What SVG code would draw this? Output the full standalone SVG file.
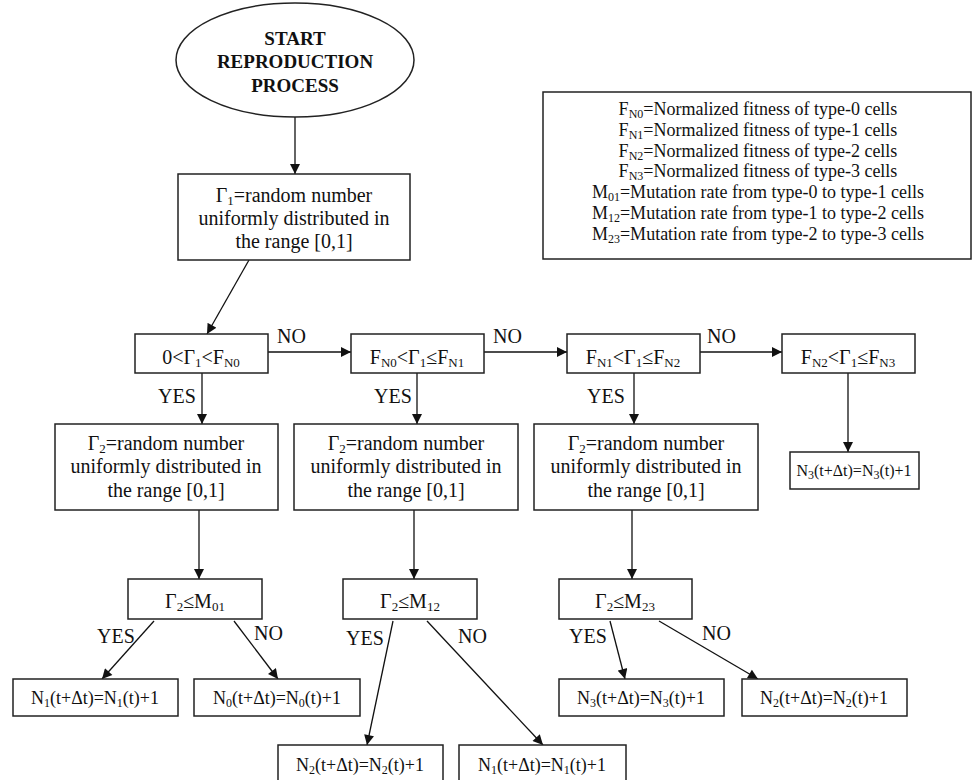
<svg xmlns="http://www.w3.org/2000/svg" width="973" height="780" viewBox="0 0 973 780">
<defs>
<marker id="ah" viewBox="0 0 10 10" refX="10" refY="5" markerWidth="11" markerHeight="10" markerUnits="userSpaceOnUse" orient="auto">
<path d="M0,0 L10,5 L0,10 z" fill="#111"/>
</marker>
<style>
.box{fill:#fff;stroke:#222;stroke-width:1.5}
.t{font-family:"Liberation Serif","Times New Roman",serif;font-size:20px;fill:#111;text-anchor:middle}
.t18{font-size:18px}
.t16{font-size:16px}
.b{font-weight:bold;font-size:19px}
.lbl{font-family:"Liberation Serif","Times New Roman",serif;font-size:20px;fill:#111}
.s{font-size:13px}
.s12{font-size:12px}
.c{fill:none;stroke:#111;stroke-width:1.3;marker-end:url(#ah)}
.c0{fill:none;stroke:#111;stroke-width:1.3}
</style>
</defs>
<rect width="973" height="780" fill="#fff"/>

<g id="connectors">
<line class="c" x1="295" y1="117" x2="295" y2="174"/>
<line class="c" x1="249" y1="260" x2="207" y2="334"/>
<line class="c" x1="268" y1="352" x2="351" y2="352"/>
<line class="c" x1="484" y1="352" x2="567" y2="352"/>
<line class="c" x1="700" y1="352" x2="782" y2="352"/>
<line class="c" x1="202" y1="373" x2="202" y2="424"/>
<line class="c" x1="417" y1="373" x2="417" y2="424"/>
<line class="c" x1="634" y1="373" x2="634" y2="424"/>
<line class="c" x1="848" y1="373" x2="848" y2="452"/>
<line class="c" x1="199" y1="510" x2="199" y2="579"/>
<line class="c" x1="414" y1="510" x2="414" y2="579"/>
<line class="c" x1="632" y1="510" x2="632" y2="579"/>
<line class="c" x1="154" y1="621" x2="102" y2="679"/>
<line class="c" x1="234" y1="621" x2="278" y2="679"/>
<line class="c" x1="393" y1="621" x2="367" y2="745"/>
<line class="c" x1="427" y1="621" x2="543" y2="745"/>
<line class="c" x1="610" y1="621" x2="625" y2="679"/>
<line class="c" x1="659" y1="621" x2="758" y2="679"/>
<text class="lbl" x="277" y="343">NO</text>
<text class="lbl" x="493" y="343">NO</text>
<text class="lbl" x="707" y="343">NO</text>
<text class="lbl" x="158" y="403">YES</text>
<text class="lbl" x="374" y="403">YES</text>
<text class="lbl" x="587" y="403">YES</text>
<text class="lbl" x="97" y="643">YES</text>
<text class="lbl" x="254" y="640">NO</text>
<text class="lbl" x="346" y="645">YES</text>
<text class="lbl" x="458" y="643">NO</text>
<text class="lbl" x="569" y="643">YES</text>
<text class="lbl" x="702" y="640">NO</text>
</g>

<g id="start">
<ellipse class="box" cx="295" cy="60" rx="119" ry="57"/>
<text class="t b" x="295" y="45">START</text>
<text class="t b" x="295" y="68">REPRODUCTION</text>
<text class="t b" x="295" y="92">PROCESS</text>
</g>

<g id="legend">
<rect class="box" x="543" y="92" width="428" height="167"/>
<text class="t t18" x="758" y="115">F<tspan class="s12" dy="3">N0</tspan><tspan dy="-3">=Normalized fitness of type-0 cells</tspan></text>
<text class="t t18" x="758" y="136">F<tspan class="s12" dy="3">N1</tspan><tspan dy="-3">=Normalized fitness of type-1 cells</tspan></text>
<text class="t t18" x="758" y="157">F<tspan class="s12" dy="3">N2</tspan><tspan dy="-3">=Normalized fitness of type-2 cells</tspan></text>
<text class="t t18" x="758" y="177">F<tspan class="s12" dy="3">N3</tspan><tspan dy="-3">=Normalized fitness of type-3 cells</tspan></text>
<text class="t t18" x="758" y="198">M<tspan class="s12" dy="3">01</tspan><tspan dy="-3">=Mutation rate from type-0 to type-1 cells</tspan></text>
<text class="t t18" x="758" y="219">M<tspan class="s12" dy="3">12</tspan><tspan dy="-3">=Mutation rate from type-1 to type-2 cells</tspan></text>
<text class="t t18" x="758" y="240">M<tspan class="s12" dy="3">23</tspan><tspan dy="-3">=Mutation rate from type-2 to type-3 cells</tspan></text>
</g>

<g id="gamma1">
<rect class="box" x="178" y="174" width="232" height="86"/>
<text class="t" x="294" y="202">Γ<tspan class="s" dy="3">1</tspan><tspan dy="-3">=random number</tspan></text>
<text class="t" x="294" y="225">uniformly distributed in</text>
<text class="t" x="294" y="248">the range [0,1]</text>
</g>

<g id="cond0">
<rect class="box" x="135" y="334" width="133" height="39"/>
<text class="t" x="201" y="364">0&lt;Γ<tspan class="s" dy="3">1</tspan><tspan dy="-3">&lt;F</tspan><tspan class="s" dy="3">N0</tspan></text>
</g>
<g id="cond1">
<rect class="box" x="351" y="334" width="133" height="39"/>
<text class="t" x="417" y="364">F<tspan class="s" dy="3">N0</tspan><tspan dy="-3">&lt;Γ</tspan><tspan class="s" dy="3">1</tspan><tspan dy="-3">≤F</tspan><tspan class="s" dy="3">N1</tspan></text>
</g>
<g id="cond2">
<rect class="box" x="567" y="334" width="133" height="39"/>
<text class="t" x="633" y="364">F<tspan class="s" dy="3">N1</tspan><tspan dy="-3">&lt;Γ</tspan><tspan class="s" dy="3">1</tspan><tspan dy="-3">≤F</tspan><tspan class="s" dy="3">N2</tspan></text>
</g>
<g id="cond3">
<rect class="box" x="782" y="334" width="133" height="39"/>
<text class="t" x="848" y="364">F<tspan class="s" dy="3">N2</tspan><tspan dy="-3">&lt;Γ</tspan><tspan class="s" dy="3">1</tspan><tspan dy="-3">≤F</tspan><tspan class="s" dy="3">N3</tspan></text>
</g>

<g id="gamma2a">
<rect class="box" x="55" y="424" width="223" height="86"/>
<text class="t" x="166" y="450">Γ<tspan class="s" dy="3">2</tspan><tspan dy="-3">=random number</tspan></text>
<text class="t" x="166" y="473">uniformly distributed in</text>
<text class="t" x="166" y="497">the range [0,1]</text>
</g>
<g id="gamma2b">
<rect class="box" x="294" y="424" width="224" height="86"/>
<text class="t" x="406" y="450">Γ<tspan class="s" dy="3">2</tspan><tspan dy="-3">=random number</tspan></text>
<text class="t" x="406" y="473">uniformly distributed in</text>
<text class="t" x="406" y="497">the range [0,1]</text>
</g>
<g id="gamma2c">
<rect class="box" x="534" y="424" width="224" height="86"/>
<text class="t" x="646" y="450">Γ<tspan class="s" dy="3">2</tspan><tspan dy="-3">=random number</tspan></text>
<text class="t" x="646" y="473">uniformly distributed in</text>
<text class="t" x="646" y="497">the range [0,1]</text>
</g>

<g id="n3direct">
<rect class="box" x="790" y="452" width="129" height="37"/>
<text class="t t16" x="854" y="476">N<tspan class="s12" dy="3">3</tspan><tspan dy="-3">(t+Δt)=N</tspan><tspan class="s12" dy="3">3</tspan><tspan dy="-3">(t)+1</tspan></text>
</g>

<g id="m01">
<rect class="box" x="128" y="579" width="134" height="40"/>
<text class="t" x="195" y="608">Γ<tspan class="s" dy="3">2</tspan><tspan dy="-3">≤M</tspan><tspan class="s" dy="3">01</tspan></text>
</g>
<g id="m12">
<rect class="box" x="343" y="579" width="134" height="40"/>
<text class="t" x="410" y="608">Γ<tspan class="s" dy="3">2</tspan><tspan dy="-3">≤M</tspan><tspan class="s" dy="3">12</tspan></text>
</g>
<g id="m23">
<rect class="box" x="559" y="579" width="133" height="40"/>
<text class="t" x="625" y="608">Γ<tspan class="s" dy="3">2</tspan><tspan dy="-3">≤M</tspan><tspan class="s" dy="3">23</tspan></text>
</g>

<g id="r1">
<rect class="box" x="13" y="679" width="165" height="37"/>
<text class="t t18" x="95" y="704">N<tspan class="s12" dy="3">1</tspan><tspan dy="-3">(t+Δt)=N</tspan><tspan class="s12" dy="3">1</tspan><tspan dy="-3">(t)+1</tspan></text>
</g>
<g id="r0">
<rect class="box" x="194" y="679" width="166" height="37"/>
<text class="t t18" x="277" y="704">N<tspan class="s12" dy="3">0</tspan><tspan dy="-3">(t+Δt)=N</tspan><tspan class="s12" dy="3">0</tspan><tspan dy="-3">(t)+1</tspan></text>
</g>
<g id="r3">
<rect class="box" x="559" y="679" width="165" height="37"/>
<text class="t t18" x="641" y="704">N<tspan class="s12" dy="3">3</tspan><tspan dy="-3">(t+Δt)=N</tspan><tspan class="s12" dy="3">3</tspan><tspan dy="-3">(t)+1</tspan></text>
</g>
<g id="r2">
<rect class="box" x="742" y="679" width="165" height="37"/>
<text class="t t18" x="824" y="704">N<tspan class="s12" dy="3">2</tspan><tspan dy="-3">(t+Δt)=N</tspan><tspan class="s12" dy="3">2</tspan><tspan dy="-3">(t)+1</tspan></text>
</g>
<g id="r2b">
<rect class="box" x="278" y="745" width="165" height="38"/>
<text class="t t18" x="360" y="771">N<tspan class="s12" dy="3">2</tspan><tspan dy="-3">(t+Δt)=N</tspan><tspan class="s12" dy="3">2</tspan><tspan dy="-3">(t)+1</tspan></text>
</g>
<g id="r1b">
<rect class="box" x="459" y="745" width="167" height="38"/>
<text class="t t18" x="542" y="771">N<tspan class="s12" dy="3">1</tspan><tspan dy="-3">(t+Δt)=N</tspan><tspan class="s12" dy="3">1</tspan><tspan dy="-3">(t)+1</tspan></text>
</g>
</svg>
